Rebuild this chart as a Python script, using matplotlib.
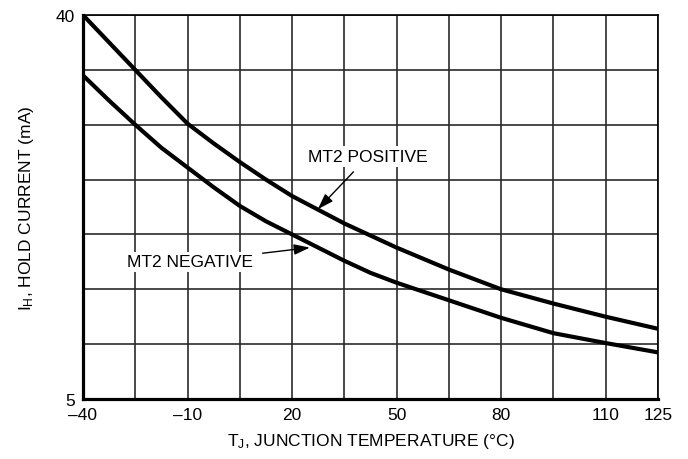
import matplotlib
matplotlib.use('Agg')
import matplotlib.pyplot as plt

plt.rcParams['font.family'] = ['Liberation Sans', 'DejaVu Sans']
plt.rcParams['mathtext.default'] = 'regular'

# junction temperature (deg C) and hold current (mA)
temp = [-40, -32.5, -25, -17.5, -10, -2.5, 5, 12.5, 20, 35, 42.5, 50, 65, 80, 95, 110, 125]
mt2_positive = [40.0, 37.5, 35.0, 32.5, 30.1, 28.3, 26.6, 25.0, 23.5, 21.0, 19.9, 18.8,
                16.8, 15.0, 13.7, 12.5, 11.4]
mt2_negative = [34.5, 32.2, 30.0, 27.9, 26.1, 24.3, 22.6, 21.2, 20.0, 17.6, 16.5, 15.6,
                14.0, 12.4, 11.0, 10.1, 9.25]

# grid and tick labels
x_grid = [-40, -25, -10, 5, 20, 35, 50, 65, 80, 95, 110, 125]
x_labels = ['\u201340', '', '\u201310', '', '20', '', '50', '', '80', '', '110', '125']
y_grid = [5, 10, 15, 20, 25, 30, 35, 40]
y_labels = ['5', '', '', '', '', '', '', '40']

fig = plt.figure(figsize=(6.88, 4.60), dpi=100)
ax = fig.add_axes([0.1206, 0.1304, 0.8358, 0.8348])

ax.set_xlim(-40, 125)
ax.set_ylim(5, 40)
ax.set_xticks(x_grid)
ax.set_xticklabels(x_labels, fontsize=12.5)
ax.set_yticks(y_grid)
ax.set_yticklabels(y_labels, fontsize=12.5)
ax.tick_params(length=0, pad=6)
ax.grid(True, color='#2a2a2a', linewidth=1.2)
ax.set_axisbelow(True)

for side in ['left', 'bottom']:
    ax.spines[side].set_linewidth(2.3)
for side in ['top', 'right']:
    ax.spines[side].set_linewidth(1.2)

ax.plot(temp, mt2_positive, color='black', linewidth=3, solid_capstyle='butt',
        solid_joinstyle='round', zorder=3)
ax.plot(temp, mt2_negative, color='black', linewidth=3, solid_capstyle='butt',
        solid_joinstyle='round', zorder=3)

box = dict(facecolor='white', edgecolor='none', pad=2)
arrow = dict(arrowstyle='-|>,head_length=0.6,head_width=0.2', color='black', lw=1,
             shrinkA=5, shrinkB=0, mutation_scale=16)
ax.annotate('MT2 POSITIVE', xy=(27.4, 22.3), xytext=(41.8, 27.1),
            ha='center', va='center', fontsize=12.5, bbox=box,
            arrowprops=arrow, zorder=4)
ax.annotate('MT2 NEGATIVE', xy=(25.1, 18.8), xytext=(-9.3, 17.5),
            ha='center', va='center', fontsize=12.5, bbox=box,
            arrowprops=arrow, zorder=4)

ax.set_xlabel('T$_J$, JUNCTION TEMPERATURE (\u00b0C)', fontsize=12.5, labelpad=6)
ax.set_ylabel('I$_H$, HOLD CURRENT (mA)', fontsize=12.5, labelpad=14)

fig.savefig('out.png', dpi=100)
